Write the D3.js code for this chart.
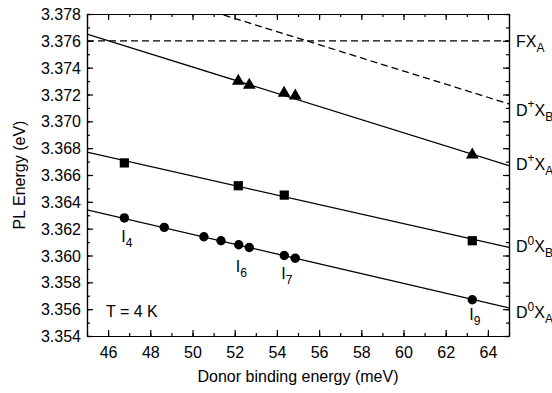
<!DOCTYPE html>
<html>
<head>
<meta charset="utf-8">
<script src="https://cdn.jsdelivr.net/npm/d3@7"></script>
<style>
  html, body { margin: 0; padding: 0; background: #fff; overflow: hidden; }
  svg { display: block; }
  .axis path, .axis line { stroke: #000; stroke-width: 1.2; }
</style>
</head>
<body>
<div id="chart"></div>
<script>
// ---- data ----
// D0XA (circles)
const d0xaX = [46.77, 48.66, 50.54, 51.35, 52.19, 52.69, 54.35, 54.87, 63.26];
const d0xaE = [3.3628, 3.3621, 3.3614, 3.3611, 3.3608, 3.3606, 3.3600, 3.3598, 3.3567];
// D0XB (squares)
const d0xbX = [46.77, 52.17, 54.35, 63.26];
const d0xbE = [3.3669, 3.3652, 3.3645, 3.3611];
// D+XA (triangles)
const dpxaX = [52.17, 52.69, 54.34, 54.87, 63.26];
const dpxaE = [3.3730, 3.3727, 3.3721, 3.3719, 3.3675];

// fitted lines, energy at x = 45 and x = 65
const lineX = [45, 65];
const fitD0XA = [3.3634, 3.3561];
const fitD0XB = [3.3677, 3.3606];
const fitDpXA = [3.3765, 3.3667];
const fitDpXB = [3.3811, 3.3713];   // dashed
const fitFXA  = [3.3760, 3.3760];   // dashed

const xTicks = [46, 48, 50, 52, 54, 56, 58, 60, 62, 64];
const yTicks = [3.354, 3.356, 3.358, 3.360, 3.362, 3.364, 3.366, 3.368, 3.370, 3.372, 3.374, 3.376, 3.378];

// peak labels: index into D0XA points
const peakLabels = [
  { i: 0, main: 'I', sub: '4' },
  { i: 4, main: 'I', sub: '6' },
  { i: 6, main: 'I', sub: '7' },
  { i: 8, main: 'I', sub: '9' }
];

const FONT = 'Arial, "Liberation Sans", Helvetica, sans-serif';

const width = 552, height = 393;
const margin = { top: 14, right: 43, bottom: 57, left: 87 };
const innerWidth = width - margin.left - margin.right;
const innerHeight = height - margin.top - margin.bottom;

const xScale = d3.scaleLinear().domain([45, 65]).range([0, innerWidth]);
const yScale = d3.scaleLinear().domain([3.354, 3.378]).range([innerHeight, 0]);

const svg = d3.select('#chart').append('svg')
  .attr('width', width)
  .attr('height', height)
  .attr('font-family', FONT)
  .attr('font-size', 16);

const g = svg.append('g')
  .attr('transform', `translate(${margin.left},${margin.top})`);

// clip for lines
svg.append('defs').append('clipPath').attr('id', 'clip')
  .append('rect').attr('width', innerWidth).attr('height', innerHeight);

// ---- axes: major + minor, ticks pointing inward ----
const minorX = d3.range(45, 65.01, 1);
const minorY = d3.range(0, 25).map(i => 3.354 + i * 0.001);

// axis with no labels: drop the empty tick texts
function bare(sel) { sel.selectAll('text').remove(); }
function styled(sel) {
  sel.attr('font-family', FONT).attr('font-size', 16);
  sel.selectAll('text').attr('fill', '#000');
}

g.append('g').attr('class', 'axis')
  .attr('transform', `translate(0,${innerHeight})`)
  .call(d3.axisBottom(xScale).tickValues(xTicks).tickFormat(d3.format('d'))
    .tickSizeInner(-6).tickSizeOuter(0).tickPadding(10))
  .call(styled)
  .call(s => s.selectAll('text').attr('dy', null).attr('y', 22));
g.append('g').attr('class', 'axis')
  .attr('transform', `translate(0,${innerHeight})`)
  .call(d3.axisBottom(xScale).tickValues(minorX).tickSizeInner(-3).tickSizeOuter(0))
  .call(bare);

g.append('g').attr('class', 'axis')
  .call(d3.axisTop(xScale).tickValues(xTicks).tickSizeInner(-6).tickSizeOuter(0))
  .call(bare);
g.append('g').attr('class', 'axis')
  .call(d3.axisTop(xScale).tickValues(minorX).tickSizeInner(-3).tickSizeOuter(0))
  .call(bare);

g.append('g').attr('class', 'axis')
  .call(d3.axisLeft(yScale).tickValues(yTicks).tickFormat(d3.format('.3f'))
    .tickSizeInner(-6).tickSizeOuter(0).tickPadding(6))
  .call(styled)
  .call(s => s.selectAll('text').attr('dy', null).attr('y', 5.5));
g.append('g').attr('class', 'axis')
  .call(d3.axisLeft(yScale).tickValues(minorY).tickSizeInner(-3).tickSizeOuter(0))
  .call(bare);

g.append('g').attr('class', 'axis')
  .attr('transform', `translate(${innerWidth},0)`)
  .call(d3.axisRight(yScale).tickValues(yTicks).tickSizeInner(-6).tickSizeOuter(0))
  .call(bare);
g.append('g').attr('class', 'axis')
  .attr('transform', `translate(${innerWidth},0)`)
  .call(d3.axisRight(yScale).tickValues(minorY).tickSizeInner(-3).tickSizeOuter(0))
  .call(bare);

// ---- fit lines ----
const line = d3.line()
  .x(d => xScale(d[0]))
  .y(d => yScale(d[1]));

const lines = [
  { e: fitD0XA, dash: null },
  { e: fitD0XB, dash: null },
  { e: fitDpXA, dash: null },
  { e: fitDpXB, dash: '7,4' },
  { e: fitFXA, dash: '7,4' }
];

const lineG = g.append('g').attr('clip-path', 'url(#clip)');
lineG.selectAll('path').data(lines).enter().append('path')
  .attr('fill', 'none')
  .attr('stroke', '#000')
  .attr('stroke-width', 1.3)
  .attr('stroke-dasharray', d => d.dash)
  .attr('d', d => line(lineX.map((x, i) => [x, d.e[i]])));

// ---- markers ----
const zip = (xs, ys) => xs.map((x, i) => [x, ys[i]]);

g.selectAll('.circ').data(zip(d0xaX, d0xaE)).enter().append('circle')
  .attr('class', 'circ')
  .attr('cx', d => xScale(d[0]))
  .attr('cy', d => yScale(d[1]))
  .attr('r', 4.7)
  .attr('fill', '#000');

const sq = d3.symbol().type(d3.symbolSquare).size(85);
g.selectAll('.sq').data(zip(d0xbX, d0xbE)).enter().append('path')
  .attr('class', 'sq')
  .attr('d', sq)
  .attr('transform', d => `translate(${xScale(d[0])},${yScale(d[1])})`)
  .attr('fill', '#000');

const tri = d3.symbol().type(d3.symbolTriangle).size(70);
g.selectAll('.tri').data(zip(dpxaX, dpxaE)).enter().append('path')
  .attr('class', 'tri')
  .attr('d', tri)
  .attr('transform', d => `translate(${xScale(d[0])},${yScale(d[1])})`)
  .attr('fill', '#000');

// ---- text with sub/superscripts: each piece is its own text element ----
// parts: [string, shift (px, + is down), font size]
function richText(parent, x, y, parts) {
  let cx = x;
  parts.forEach(p => {
    const t = parent.append('text')
      .attr('x', cx)
      .attr('y', y + p[1])
      .attr('font-size', p[2])
      .text(p[0]);
    cx += t.node().getComputedTextLength();
  });
}

// ---- peak labels under circles ----
const peakDy = [24, 27, 23, 20];
peakLabels.forEach((p, k) => {
  richText(g, xScale(d0xaX[p.i]) - 3, yScale(d0xaE[p.i]) + peakDy[k],
    [[p.main, 0, 16], [p.sub, 5, 12]]);
});

// ---- right-hand line labels ----
const rightLabels = [
  { e: fitFXA[1], dy: 6, parts: [['FX', 0, 16], ['A', 5, 12]] },
  { e: fitDpXB[1], dy: 12, parts: [['D', 0, 16], ['+', -8, 12], ['X', 0, 16], ['B', 5, 12]] },
  { e: fitDpXA[1], dy: 4, parts: [['D', 0, 16], ['+', -8, 12], ['X', 0, 16], ['A', 5, 12]] },
  { e: fitD0XB[1], dy: 5, parts: [['D', 0, 16], ['0', -7, 12], ['X', 0, 16], ['B', 5, 12]] },
  { e: fitD0XA[1], dy: 10, parts: [['D', 0, 16], ['0', -7, 12], ['X', 0, 16], ['A', 5, 12]] }
];
rightLabels.forEach(l => {
  richText(g, innerWidth + 7, yScale(l.e) + l.dy, l.parts);
});

// ---- annotation ----
g.append('text')
  .attr('x', xScale(45.9))
  .attr('y', yScale(3.3554))
  .text('T = 4 K');

// ---- axis titles ----
svg.append('text')
  .attr('x', margin.left + innerWidth / 2)
  .attr('y', 382)
  .attr('text-anchor', 'middle')
  .text('Donor binding energy (meV)');

svg.append('text')
  .attr('transform', `translate(25,${margin.top + innerHeight / 2}) rotate(-90)`)
  .attr('text-anchor', 'middle')
  .text('PL Energy (eV)');
</script>
</body>
</html>
